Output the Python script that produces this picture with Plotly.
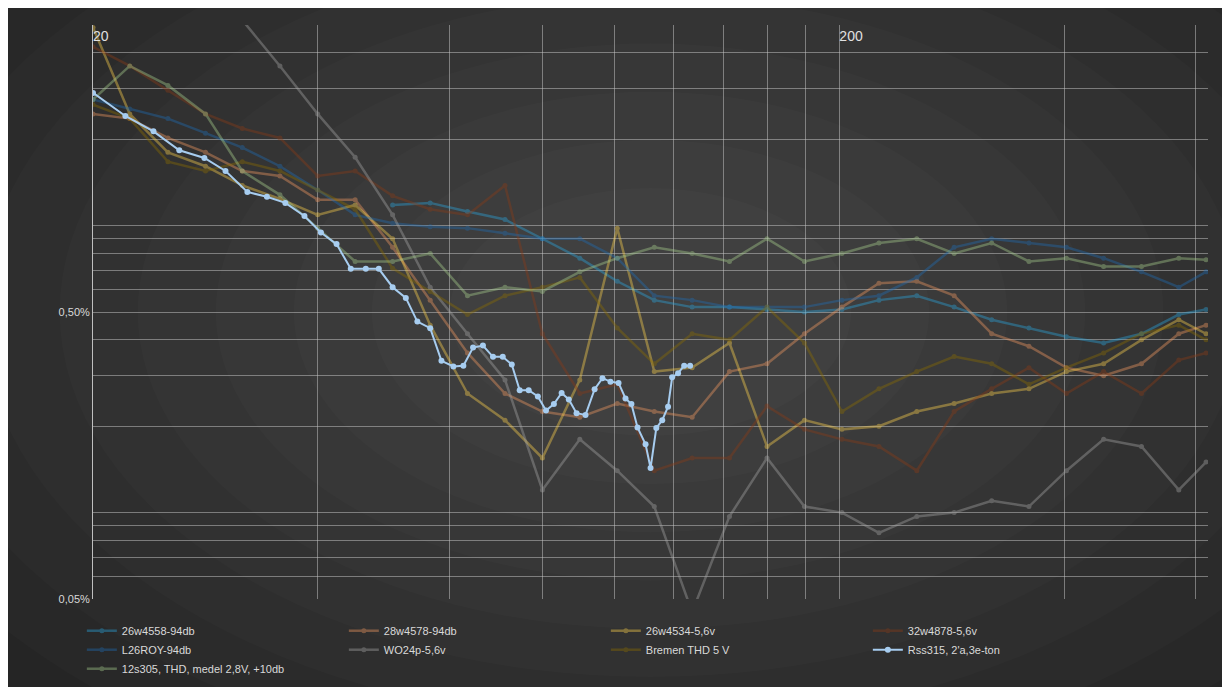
import plotly.graph_objects as go

# common 1/6-octave frequency grid (Hz)
freq = [20, 22.4, 25.2, 28.3, 31.7, 35.6, 40, 44.9, 50.4, 56.6, 63.5, 71.3, 80, 89.8,
        100.8, 113, 127, 142.5, 160, 179.6, 201.6, 226, 254, 285, 320, 359, 403, 452,
        508, 570, 620]

# THD values in percent
thd_26w4558 = [None, None, None, None, None, None, None, None, 1.18, 1.20, 1.12, 1.05, 0.90,
               0.77, 0.64, 0.55, 0.52, 0.52, 0.51, 0.50, 0.51, 0.55, 0.57, 0.52, 0.47, 0.44,
               0.41, 0.39, 0.42, 0.49, 0.51]
thd_28w4578 = [2.45, 2.36, 2.02, 1.80, 1.55, 1.49, 1.23, 1.23, 0.84, 0.55, 0.36, 0.26, 0.225,
               0.215, 0.24, 0.225, 0.215, 0.31, 0.33, 0.42, 0.52, 0.63, 0.64, 0.57, 0.42,
               0.38, 0.32, 0.30, 0.33, 0.42, 0.45]
thd_26w4534 = [4.9, 2.45, 1.80, 1.61, 1.38, 1.24, 1.09, 1.18, 0.90, 0.45, 0.26, 0.21, 0.155,
               0.29, 0.98, 0.31, 0.32, 0.39, 0.17, 0.21, 0.195, 0.20, 0.225, 0.24, 0.26,
               0.27, 0.31, 0.33, 0.40, 0.47, 0.42]
thd_32w4878 = [4.2, 3.6, 2.96, 2.45, 2.18, 2.02, 1.49, 1.55, 1.27, 1.14, 1.09, 1.38, 0.42,
               0.26, 0.28, 0.14, 0.155, 0.155, 0.235, 0.195, 0.18, 0.17, 0.14, 0.225, 0.27,
               0.32, 0.26, 0.31, 0.26, 0.34, 0.36]
thd_l26roy = [2.75, 2.55, 2.36, 2.10, 1.87, 1.61, 1.33, 1.09, 1.02, 0.99, 0.98, 0.94, 0.90,
              0.90, 0.77, 0.57, 0.55, 0.52, 0.52, 0.52, 0.55, 0.57, 0.66, 0.84, 0.90, 0.87,
              0.84, 0.77, 0.69, 0.61, 0.69]
thd_wo24p = [None, None, None, None, 5.2, 3.6, 2.45, 1.73, 1.09, 0.61, 0.42, 0.29, 0.12,
             0.18, 0.14, 0.105, 0.045, 0.097, 0.155, 0.105, 0.10, 0.085, 0.097, 0.10,
             0.11, 0.105, 0.14, 0.18, 0.17, 0.12, 0.15]
thd_bremen = [2.64, 2.36, 1.67, 1.55, 1.67, 1.55, 1.33, 1.14, 0.71, 0.59, 0.49, 0.57, 0.61,
              0.66, 0.44, 0.33, 0.42, 0.40, 0.52, 0.39, 0.225, 0.27, 0.31, 0.35, 0.33,
              0.28, 0.32, 0.36, 0.42, 0.45, 0.40]
thd_12s305 = [2.75, 3.60, 3.08, 2.45, 1.55, 1.28, 0.98, 0.75, 0.75, 0.80, 0.57, 0.61, 0.59,
              0.69, 0.77, 0.84, 0.80, 0.75, 0.90, 0.75, 0.80, 0.87, 0.90, 0.80, 0.87, 0.75,
              0.77, 0.72, 0.72, 0.77, 0.76]

# Rss315 has its own, finer frequency points
rss_freq = [20, 22.1, 24.1, 26.1, 28.2, 30.1, 32.2, 34.2, 36.2, 38.4, 40.4, 42.4, 44.3,
            46.4, 48.3, 50.4, 52.5, 54.4, 56.6, 58.6, 60.8, 62.7, 64.6, 66.6, 68.7, 70.8,
            72.8, 74.6, 76.7, 78.9, 80.9, 82.9, 84.9, 86.8, 88.9, 91.4, 94, 96.3, 98.7,
            101.2, 103.4, 105.3, 107.3, 110, 111.7, 113.7, 115.8, 117.9, 119.4, 121.6,
            123.9, 126.2]
rss_thd = [2.90, 2.41, 2.13, 1.83, 1.72, 1.55, 1.31, 1.26, 1.20, 1.08, 0.946, 0.862, 0.707,
           0.707, 0.707, 0.61, 0.56, 0.463, 0.439, 0.338, 0.323, 0.325, 0.376, 0.382, 0.349,
           0.349, 0.328, 0.267, 0.267, 0.254, 0.227, 0.239, 0.261, 0.248, 0.222, 0.219,
           0.269, 0.294, 0.286, 0.283, 0.25, 0.239, 0.198, 0.173, 0.143, 0.197, 0.21,
           0.234, 0.296, 0.306, 0.325, 0.325]

series = [
    ("26w4558-94db", thd_26w4558, "#2aa7e0", 1),
    ("28w4578-94db", thd_28w4578, "#f49a62", 2),
    ("26w4534-5,6v", thd_26w4534, "#ffd34d", 3),
    ("32w4878-5,6v", thd_32w4878, "#8c3b16", 4),
    ("L26ROY-94db", thd_l26roy, "#1f6db5", 5),
    ("WO24p-5,6v", thd_wo24p, "#a6a6a6", 6),
    ("Bremen THD 5 V", thd_bremen, "#8c6d00", 7),
    ("12s305, THD, medel 2,8V, +10db", thd_12s305, "#a9d18e", 9),
]

fig = go.Figure()
for name, vals, color, rank in series:
    fig.add_trace(go.Scatter(
        x=freq, y=vals, name=name, mode="lines+markers", legendrank=rank,
        line=dict(color=color, width=2.5), marker=dict(size=5, color=color),
        opacity=0.4, connectgaps=False,
    ))
fig.add_trace(go.Scatter(
    x=rss_freq, y=rss_thd, name="Rss315, 2'a,3e-ton", mode="lines+markers",
    legendrank=8, line=dict(color="#a7cdf0", width=2),
    marker=dict(size=6, color="#a7cdf0"),
))

# soft radial glow behind the plot, many faint layers
shapes = []
for k in range(12):
    w = 0.95 - k * 0.07
    shapes.append(dict(type="circle", xref="paper", yref="paper", layer="below",
                       x0=0.5 - w, x1=0.5 + w, y0=0.5 - w * 1.2, y1=0.5 + w * 1.2,
                       fillcolor="rgba(255,255,255,0.017)", line=dict(width=0)))

yvals, ytext = [], []
for dec in [0.01, 0.1, 1]:
    for m in range(5 if dec == 0.01 else 1, 10):
        v = round(m * dec, 4)
        yvals.append(v)
        ytext.append({0.05: "0,05%", 0.5: "0,50%", 5: "5,00%"}.get(v, ""))

xvals = [20, 40, 60, 80, 100, 120, 140, 160, 180, 200, 400, 600]
xtext = ["20", "", "", "", "", "", "", "", "", "200", "", ""]

fig.update_layout(
    width=1230, height=687,
    margin=dict(l=85, r=30, t=17, b=69),
    paper_bgcolor="#1c1c1c", plot_bgcolor="rgba(0,0,0,0)",
    shapes=shapes,
    font=dict(family="Liberation Sans, Arial, sans-serif", color="#d9d9d9", size=11),
    legend=dict(orientation="h", x=-0.01, xanchor="left", y=-0.03, yanchor="top",
                entrywidth=217, entrywidthmode="pixels", tracegroupgap=0,
                font=dict(size=11, color="#d9d9d9"), bgcolor="rgba(0,0,0,0)"),
)
fig.update_xaxes(type="log", range=[1.301, 2.795], side="top",
                 tickvals=xvals, ticktext=xtext, ticklabelposition="inside right",
                 tickfont=dict(size=14, color="#e0e0e0"),
                 showgrid=True, gridcolor="rgba(200,200,200,0.5)", gridwidth=1,
                 zeroline=False, ticks="")
fig.update_yaxes(type="log", range=[-1.301, 0.699],
                 tickvals=yvals, ticktext=ytext,
                 showgrid=True, gridcolor="rgba(200,200,200,0.5)", gridwidth=1,
                 showline=True, linecolor="#bfbfbf", zeroline=False, ticks="")

fig.write_html("out.html")
